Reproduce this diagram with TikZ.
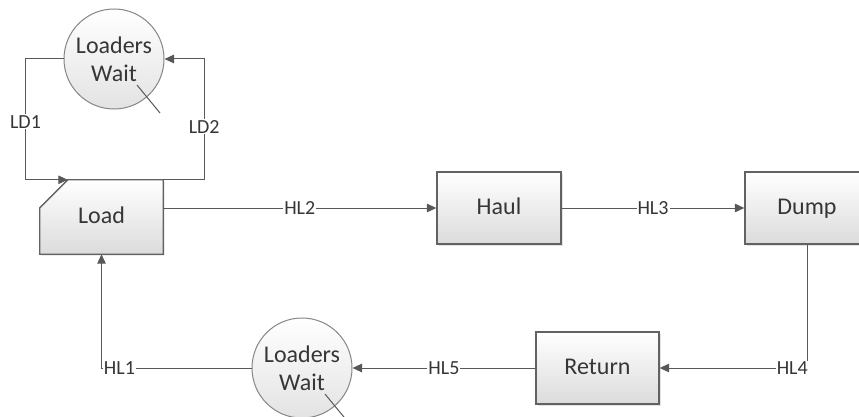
\documentclass[tikz,border=0pt]{standalone}
\usepackage{fontspec}
\setmainfont{Carlito}
\usetikzlibrary{arrows.meta,shadows,backgrounds}
\definecolor{inkgray}{HTML}{363636}
\definecolor{linegray}{HTML}{585858}
\definecolor{edgegray}{HTML}{626262}
\tikzset{
  stagetext/.style={minimum width=124pt, minimum height=72pt, inner sep=0pt, text height=16pt, text depth=4pt, text=inkgray, font=\fontsize{24}{28}\selectfont},
  stage/.style={stagetext, draw=edgegray, line width=1.3pt, top color=white, bottom color=black!14, drop shadow={shadow xshift=1.5pt, shadow yshift=-1.5pt, fill=black!22}},
  queue/.style={circle, draw=black!48, line width=1pt, top color=white, bottom color=black!11, minimum size=100pt, inner sep=0pt, align=center, text=inkgray, font=\fontsize{24}{27.7}\selectfont},
  flow/.style={draw=linegray, line width=1pt, -{Triangle[length=9.5pt,width=8.5pt]}},
  tick/.style={draw=linegray, line width=1pt},
  route/.style={fill=white, inner sep=1pt, text=inkgray, font=\fontsize{20}{24}\selectfont},
}
\begin{document}
\begin{tikzpicture}[x=1pt, y=-1pt]
\useasboundingbox (0,0) rectangle (859,417);
% stations
\node[stagetext, minimum width=123pt, minimum height=74pt] (load) at (101.5,217) {Load};
\node[stage] (haul) at (499,208) {Haul};
\node[stage] (dump) at (807,208) {Dump};
\node[stage, minimum width=123pt] (ret) at (597.5,368) {Return};
\node[queue] (wait1) at (114,59) {Loaders\\Wait};
\node[queue] (wait2) at (302,368) {Loaders\\Wait};
\coordinate (ldin) at ([xshift=28pt]load.north west);
\begin{scope}[on background layer]
\draw[draw=edgegray, line width=1.3pt, top color=white, bottom color=black!14, drop shadow={shadow xshift=1.5pt, shadow yshift=-1.5pt, fill=black!22}]
  (ldin) -- (load.north east) -- (load.south east) -- (load.south west) -- ([yshift=-28pt]load.north west) -- cycle;
\end{scope}
% loader cycle
\draw[flow] (wait1.west) -- ++(-38,0) |- node[route, pos=0.26] {LD1} (ldin);
\draw[flow] (load.north east) -- ++(41,0) |- node[route, pos=0.22] {LD2} (wait1.east);
% truck cycle
\draw[flow] (load.east |- haul.west) -- node[route] {HL2} (haul.west);
\draw[flow] (haul.east) -- node[route] {HL3} (dump.west);
\draw[flow] (dump.south) |- node[route, pos=0.55] {HL4} (ret.east);
\draw[flow] (ret.west) -- node[route] {HL5} (wait2.east);
\draw[flow] (wait2.west) -| node[route, pos=0.44] {HL1} (load.south);
% stray marks
\draw[tick] ([shift={(23,26)}]wait1.center) -- ++(23,28);
\draw[tick] ([shift={(23,26)}]wait2.center) -- ++(23,28);
\end{tikzpicture}
\end{document}
